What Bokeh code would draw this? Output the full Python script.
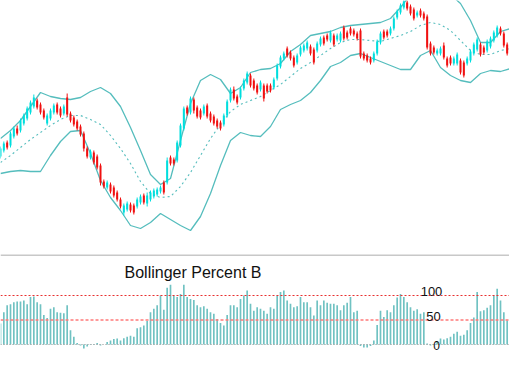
from bokeh.plotting import figure
from bokeh.layouts import column
from bokeh.models import Range1d, Span, Label, ColumnDataSource
from bokeh.embed import file_html
from bokeh.resources import INLINE

# ---- price candles (index 0..157) ----
opens = [104,110,118,115,124,132,130,137,142,148,154,160,156,150,137,142,148,156,152,147,
         163,147,143,139,134,127,112,103,108,104,95,79,73,76,73,68,61,48,51,56,
         55,54,58,65,57,61,64,66,69,78,78,103,101,100,115,132,153,148,161,153,
         150,147,155,147,144,140,138,136,145,160,171,164,163,172,178,185,180,175,171,175,
         175,175,173,182,194,202,212,208,203,198,206,210,212,214,211,210,216,223,225,220,
         225,221,220,233,228,232,230,227,230,207,205,202,200,207,218,229,229,227,232,243,
         248,253,258,254,251,245,250,247,244,217,213,207,207,215,202,203,197,197,200,198,
         197,200,207,211,216,213,210,214,220,225,232,227,216,210,206,198,193,190]
highs = [114,119,120,129,134,135,142,147,154,160,166,162,158,152,147,152,157,158,154,156,
         167,149,145,141,136,129,114,111,110,106,97,81,80,78,75,70,63,57,59,58,
         57,63,66,67,68,70,72,73,75,80,103,105,103,120,137,154,155,164,163,155,
         152,156,157,149,146,142,140,147,161,173,174,166,174,182,189,187,182,177,180,177,
         177,177,183,197,205,209,214,210,205,207,215,217,220,216,213,219,224,225,227,230,
         227,227,229,235,230,234,232,229,232,209,207,204,209,221,229,231,231,234,244,251,
         257,261,260,256,253,250,252,249,246,219,215,212,214,218,204,205,204,208,202,200,
         204,211,218,223,218,215,221,224,230,235,234,229,218,212,208,200,195,192]
lows = [102,108,111,113,122,125,128,135,140,146,152,151,146,141,135,140,146,146,143,145,
        144,138,134,130,124,109,102,101,96,91,75,72,71,67,63,59,52,45,49,48,
        46,52,56,56,54,59,62,64,67,66,76,95,95,98,113,130,145,146,147,142,
        141,145,142,138,135,132,130,134,143,158,160,156,161,170,176,173,170,166,169,159,
        167,168,171,180,192,200,203,200,193,196,204,208,210,205,196,208,214,215,219,218,
        214,219,218,220,221,225,224,220,202,200,198,196,198,205,216,221,223,225,230,241,
        246,251,250,245,240,243,243,240,211,205,206,205,205,201,193,195,195,195,186,183,
        195,198,205,209,204,206,208,212,218,223,225,213,205,200,196,188,185,181]
closes = [112,117,113,127,132,127,140,145,152,158,163,153,148,143,145,150,155,148,145,154,
          146,140,136,132,126,112,104,109,98,93,78,74,78,69,65,61,54,55,57,50,
          48,61,64,58,65,68,70,71,73,68,100,97,97,118,135,152,147,162,150,144,
          143,154,144,140,137,134,132,145,159,171,162,158,172,180,187,175,172,168,178,162,
          169,170,181,195,203,207,205,202,195,205,213,215,218,207,198,217,222,217,221,228,
          216,225,227,222,223,227,226,222,204,202,200,198,207,219,227,223,225,232,242,249,
          255,259,252,247,242,248,245,242,213,207,208,210,212,203,195,197,202,206,188,185,
          202,209,216,221,206,208,219,222,228,233,227,215,207,202,198,190,187,183]

# ---- Bollinger bands, read every 3rd bar ----
band_index = list(range(0, 157, 3)) + [157]
upper = [122,130,140,154,168,164,162,161,163,169,173,167,154,133,110,86,76,82,120,157,
         180,186,181,167,173,188,191,192,197,209,216,225,227,229,233,235,236,237,238,242,
         253,266,272,274,272,266,257,240,218,218,229,232,231,231]
middle = [98,105,113,121,128,135,141,145,145,141,136,125,112,97,79,67,63,64,74,88,
          105,122,136,149,156,160,164,170,176,184,192,198,205,212,218,221,221,220,219,222,
          225,229,235,238,236,230,220,210,206,206,210,212,212,211]
lower = [87,89,90,89,89,105,119,129,130,107,80,63,50,35,32,38,47,41,35,30,
         44,67,95,120,128,125,124,134,151,156,160,168,180,194,198,205,207,203,199,195,
         191,191,205,210,193,185,180,178,187,190,189,192,190,190]

# ---- Bollinger %B per bar ----
percent_b = [43,66,80,82,86,88,88,90,82,97,
             98,86,82,60,54,73,76,66,65,64,
             80,29,16,3,-2,-8,-4,-1,1,3,
             -2,0,5,8,11,12,8,13,16,18,
             16,33,35,39,48,66,73,80,100,71,
             116,122,100,97,103,122,97,93,91,80,
             76,78,73,66,63,52,44,39,60,80,
             80,76,93,100,110,83,69,76,73,69,
             63,76,73,100,107,110,90,83,76,78,
             97,86,86,76,59,90,80,90,85,83,
             83,80,70,80,85,97,66,69,-3,-6,
             -6,-3,8,40,69,56,70,66,80,96,
             103,97,86,76,69,72,63,66,2,-2,
             -1,5,12,10,13,16,22,26,18,20,
             29,44,55,107,68,70,75,80,100,114,
             90,66,49,49,32,18,-9,-2]

levels = [0, 50, 100]
level_labels = ["0", "50", "100"]
title_text = "Bollinger Percent B"

# ---- styling / layout constants ----
W = 509
PX = 10 / 3.0              # pixels per bar
UP = "#00dede"
DOWN = "#f01010"
BAND = "#55bdbd"

n = len(closes)
idx = list(range(n))
colors = [UP if c >= o else DOWN for o, c in zip(opens, closes)]
src = ColumnDataSource(dict(
    x=idx, top=[max(o, c) for o, c in zip(opens, closes)],
    bottom=[min(o, c) for o, c in zip(opens, closes)],
    high=highs, low=lows, color=colors))

xr = Range1d(0, W / PX)

top = figure(width=W, height=254, x_range=xr, y_range=Range1d(6, 260),
             output_backend="svg", toolbar_location=None,
             x_axis_location=None, y_axis_location=None, min_border=0,
             outline_line_color=None, background_fill_color="white",
             border_fill_color="white")
top.grid.grid_line_color = None

top.line(band_index, upper, line_color=BAND, line_width=1.3)
top.line(band_index, lower, line_color=BAND, line_width=1.3)
top.line(band_index, middle, line_color=BAND, line_width=1.1, line_dash="2 3")
top.segment(x0="x", y0="high", x1="x", y1="low", line_color="color", line_width=1, source=src)
top.vbar(x="x", width=0.6, top="top", bottom="bottom", fill_color="color",
         line_color=None, source=src)

# ---- lower panel ----
PXB = 0.49   # px per %B unit
bot = figure(width=W, height=99, x_range=xr,
             y_range=Range1d(-(353 - 344) / PXB, (344 - 254) / PXB),
             output_backend="svg", toolbar_location=None,
             x_axis_location=None, y_axis_location=None, min_border=0,
             outline_line_color=None, background_fill_color="white",
             border_fill_color="white")
bot.grid.grid_line_color = None

bot.add_layout(Span(location=(344 - 254.5) / PXB, dimension="width",
                    line_color="#c8c8c8", line_width=2))
bot.vbar(x=idx, width=0.5, top=percent_b, bottom=0, fill_color="#70c2c2",
         line_color=None)
bot.add_layout(Span(location=levels[2], dimension="width", line_color="#e83030",
                    line_width=1, line_dash="2 2"))
bot.add_layout(Span(location=levels[1], dimension="width", line_color="#ff7a7a",
                    line_width=1.6, line_dash="3 2"))
bot.add_layout(Span(location=levels[0], dimension="width", line_color="#909090",
                    line_width=1, line_dash="1 2"))

bot.add_layout(Label(x=124 / PX, y=(344 - 271.5) / PXB, text=title_text,
                     text_font="Liberation Sans", text_font_size="16px",
                     text_color="#111111", text_baseline="alphabetic", text_align="left"))
label_px = {"100": (431, 290.5, "13px"), "50": (433, 315.5, "13px"), "0": (436, 345, "12px")}
for t in level_labels:
    lx, ly, fs = label_px[t]
    bot.add_layout(Label(x=lx / PX, y=(344 - ly) / PXB, text=t,
                         text_font="Liberation Sans", text_font_size=fs,
                         text_color="#111111", text_baseline="alphabetic",
                         text_align="center"))

layout = column(top, bot, spacing=0)
open("out.html", "w").write(file_html(layout, INLINE))
